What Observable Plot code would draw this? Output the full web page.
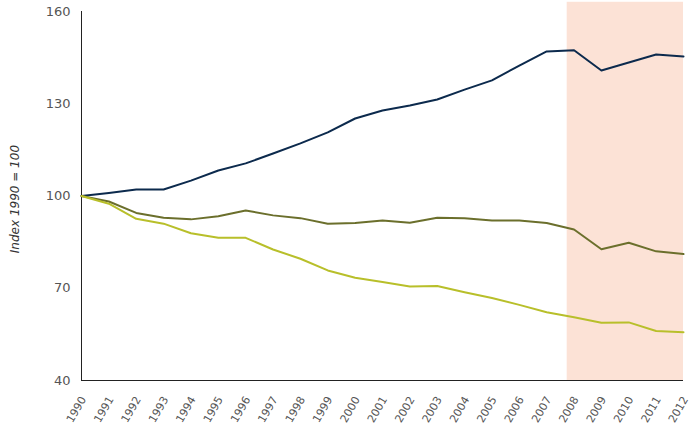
<!DOCTYPE html>
<html>
<head>
<meta charset="utf-8">
<script src="https://cdn.jsdelivr.net/npm/d3@7"></script>
<script src="https://cdn.jsdelivr.net/npm/@observablehq/plot@0.6"></script>
<style>
  html, body { margin: 0; padding: 0; background: #fff; }
  #chart { width: 692px; height: 427px; }
</style>
</head>
<body>
<div id="chart"></div>
<script>
const years = [1990,1991,1992,1993,1994,1995,1996,1997,1998,1999,2000,2001,2002,2003,2004,2005,2006,2007,2008,2009,2010,2011,2012];
const seriesA = [100,101,102.1,102.1,105.0,108.3,110.6,113.8,117.1,120.7,125.2,127.8,129.4,131.4,134.6,137.6,142.4,147.0,147.4,140.8,143.4,146.0,145.4];
const seriesB = [100,98.2,94.5,92.9,92.4,93.4,95.3,93.7,92.8,91.0,91.2,92.0,91.3,92.9,92.8,92.0,92.0,91.2,89.1,82.7,84.8,82.0,81.1];
const seriesC = [100,97.5,92.6,91.0,87.9,86.4,86.4,82.6,79.6,75.8,73.4,72.0,70.6,70.7,68.7,66.8,64.6,62.2,60.6,58.8,58.9,56.1,55.7];
const yTicks = [40,70,100,130,160];
const band = [{x1: 2007.75, x2: 2012, y1: 40, y2: 163}];

const seriesNames = ["A","B","C"];
const seriesColors = ["#0c2a4d","#6b6f2c","#b8bf2a"];
const data = [];
[seriesA, seriesB, seriesC].forEach((arr, i) => {
  arr.forEach((v, j) => data.push({year: years[j], value: v, series: seriesNames[i]}));
});

const chart = Plot.plot({
  width: 692,
  height: 427,
  marginLeft: 81,
  marginRight: 9,
  marginTop: 11,
  marginBottom: 47,
  style: {fontFamily: "DejaVu Sans, Verdana, sans-serif", background: "#fff"},
  x: {type: "linear", domain: [1990, 2012], axis: null},
  y: {domain: [40, 160]},
  color: {domain: seriesNames, range: seriesColors},
  marks: [
    Plot.rectY(band, {x1: "x1", x2: "x2", y1: "y1", y2: "y2", fill: "#fce2d6", clip: false}),
    Plot.axisY({ticks: yTicks, tickSize: 0, tickPadding: 11, fontSize: 13, color: "#555", label: null}),
    Plot.text(years, {x: d => d, y: 40, text: d => String(d), rotate: -60, textAnchor: "end", lineAnchor: "middle", dx: 2, dy: 17, fontSize: 11, fill: "#555", clip: false}),
    Plot.ruleX([1990], {y1: 40, y2: 160, stroke: "#222", strokeWidth: 1}),
    Plot.ruleY([40], {stroke: "#222", strokeWidth: 1}),
    Plot.line(data, {x: "year", y: "value", z: "series", stroke: "series", strokeWidth: 2}),
    Plot.text(["Index 1990 = 100"], {frameAnchor: "left", textAnchor: "middle", dx: -66, y: 99, rotate: -90, fontSize: 12, fontStyle: "italic", fill: "#333"})
  ]
});
document.getElementById("chart").appendChild(chart);
</script>
</body>
</html>
